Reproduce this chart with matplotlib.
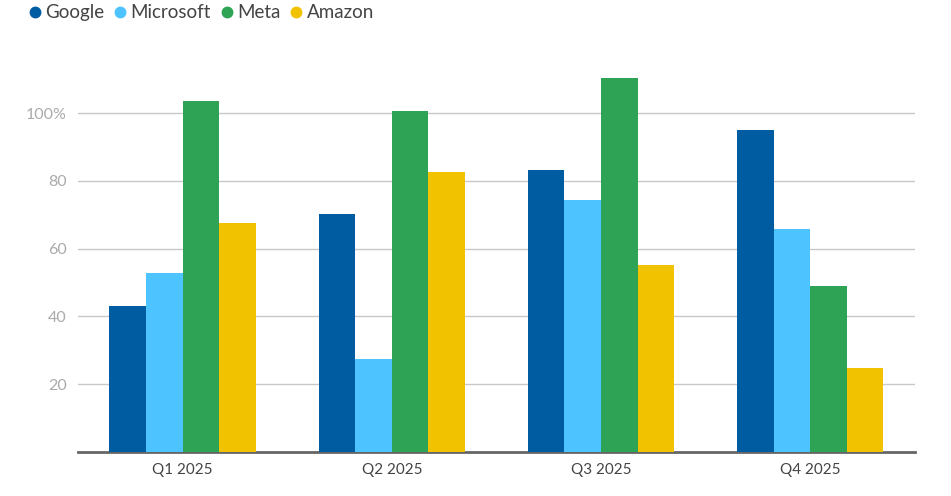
import numpy as np
import matplotlib
matplotlib.use("Agg")
import matplotlib.pyplot as plt
from matplotlib.lines import Line2D

plt.rcParams['font.family'] = ['Lato', 'DejaVu Sans']

quarters = ['Q1 2025', 'Q2 2025', 'Q3 2025', 'Q4 2025']
companies = ['Google', 'Microsoft', 'Meta', 'Amazon']
google = [43.1, 70.2, 83.2, 95.0]
microsoft = [52.8, 27.4, 74.3, 65.8]
meta = [103.5, 100.6, 110.3, 49.0]
amazon = [67.6, 82.6, 55.2, 24.8]
colors = ['#005ca0', '#4dc4ff', '#2ea356', '#f0c200']

series = [google, microsoft, meta, amazon]

fig = plt.figure(figsize=(9.51, 4.96), dpi=100)
ax = fig.add_axes([0.082, 0.0887, 0.88, 0.82])

x = np.arange(len(quarters))
w = 0.175
for i, (vals, col) in enumerate(zip(series, colors)):
    ax.bar(x + (i - 1.5) * w, vals, width=w, color=col, zorder=3, linewidth=0)

ax.set_xlim(-0.5, 3.5)
ax.set_ylim(0, 120)
ax.set_yticks([20, 40, 60, 80, 100])
ax.set_yticklabels(['20', '40', '60', '80', '100%'])
ax.set_xticks(x)
ax.set_xticklabels(quarters)
ax.grid(axis='y', color='#c8c8c8', linewidth=1, zorder=0)
for s in ['top', 'right', 'left']:
    ax.spines[s].set_visible(False)
ax.spines['bottom'].set_color('#666666')
ax.spines['bottom'].set_linewidth(2)
ax.tick_params(axis='y', length=0, labelsize=11.5, labelcolor='#aaaaaa', pad=8)
ax.tick_params(axis='x', length=0, labelsize=11, labelcolor='#444444', pad=8)

handles = [Line2D([], [], marker='o', linestyle='', markersize=7.5, color=c) for c in colors]
fig.legend(handles, companies, loc='upper left', bbox_to_anchor=(0.009, 1.025), ncol=4,
           frameon=False, fontsize=13.5, handletextpad=0.05, columnspacing=0.35,
           labelcolor='#444444', handlelength=1.0)

fig.savefig('out.png', dpi=100)
